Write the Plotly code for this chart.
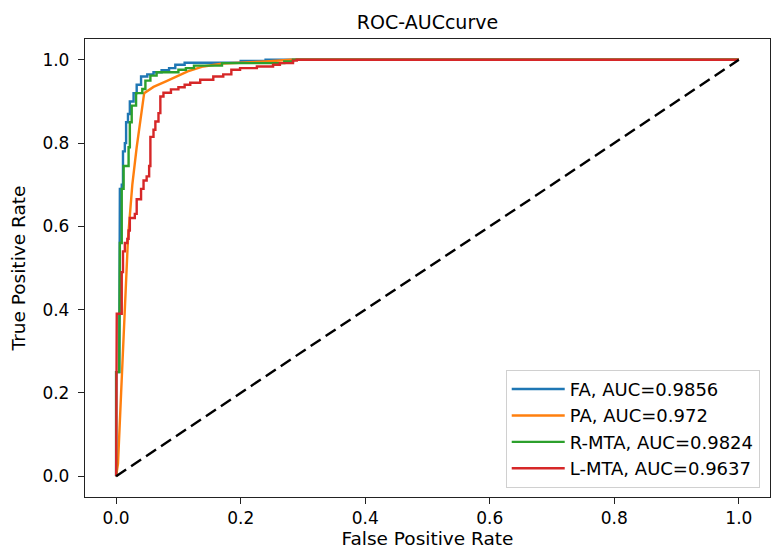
import plotly.graph_objects as go

# ROC points
fa_fpr = [0, 0, 0.005, 0.005, 0.006, 0.006, 0.009, 0.009, 0.011, 0.011, 0.014, 0.014, 0.016, 0.016,
          0.019, 0.019, 0.022, 0.022, 0.028, 0.028, 0.033, 0.033, 0.04, 0.04, 0.05, 0.05, 0.06, 0.06,
          0.073, 0.073, 0.085, 0.085, 0.095, 0.095, 0.11, 0.11, 0.2, 0.2, 0.24, 0.24, 1.0]
fa_tpr = [0, 0.25, 0.25, 0.56, 0.56, 0.69, 0.69, 0.70, 0.70, 0.78, 0.78, 0.80, 0.80, 0.85,
          0.85, 0.87, 0.87, 0.90, 0.90, 0.92, 0.92, 0.94, 0.94, 0.96, 0.96, 0.965, 0.965, 0.97,
          0.97, 0.975, 0.975, 0.98, 0.98, 0.988, 0.988, 0.993, 0.993, 0.997, 0.997, 1.0, 1.0]

pa_fpr = [0, 0.003, 0.008, 0.013, 0.019, 0.026, 0.033, 0.045, 0.06, 0.08, 0.1, 0.115, 0.14,
          0.172, 0.24, 0.28, 1.0]
pa_tpr = [0, 0.03, 0.2, 0.38, 0.57, 0.7, 0.79, 0.92, 0.935, 0.948, 0.962, 0.972, 0.984,
          0.991, 0.996, 1.0, 1.0]

rmta_fpr = [0, 0, 0.005, 0.005, 0.006, 0.006, 0.009, 0.009, 0.012, 0.012, 0.02, 0.02, 0.022, 0.022,
            0.025, 0.025, 0.032, 0.032, 0.042, 0.042, 0.047, 0.047, 0.055, 0.055, 0.065, 0.065,
            0.1, 0.1, 0.112, 0.112, 0.125, 0.125, 0.17, 0.17, 0.27, 0.27, 0.284, 0.284, 1.0]
rmta_tpr = [0, 0.25, 0.25, 0.47, 0.47, 0.56, 0.56, 0.69, 0.69, 0.745, 0.745, 0.79, 0.79, 0.85,
            0.85, 0.89, 0.89, 0.92, 0.92, 0.93, 0.93, 0.95, 0.95, 0.962, 0.962, 0.97,
            0.97, 0.976, 0.976, 0.98, 0.98, 0.986, 0.986, 0.992, 0.992, 0.996, 0.996, 1.0, 1.0]

lmta_fpr = [0, 0, 0.001, 0.001, 0.009, 0.009, 0.011, 0.011, 0.014, 0.014, 0.018, 0.018, 0.02, 0.02,
            0.022, 0.022, 0.03, 0.03, 0.033, 0.033, 0.04, 0.04, 0.044, 0.044, 0.049, 0.049,
            0.053, 0.053, 0.055, 0.055, 0.06, 0.06, 0.063, 0.063, 0.068, 0.068, 0.071, 0.071,
            0.076, 0.076, 0.088, 0.088, 0.1, 0.1, 0.11, 0.11, 0.119, 0.119, 0.135, 0.135,
            0.156, 0.156, 0.172, 0.172, 0.185, 0.185, 0.199, 0.199, 0.226, 0.226, 0.252, 0.252,
            0.263, 0.263, 0.284, 0.284, 0.29, 0.29, 1.0]
lmta_tpr = [0, 0.03, 0.03, 0.39, 0.39, 0.49, 0.49, 0.54, 0.54, 0.56, 0.56, 0.57, 0.57, 0.59,
            0.59, 0.62, 0.62, 0.63, 0.63, 0.665, 0.665, 0.69, 0.69, 0.71, 0.71, 0.72,
            0.72, 0.745, 0.745, 0.815, 0.815, 0.832, 0.832, 0.852, 0.852, 0.872, 0.872, 0.912,
            0.912, 0.921, 0.921, 0.929, 0.929, 0.934, 0.934, 0.94, 0.94, 0.945, 0.945, 0.952,
            0.952, 0.96, 0.96, 0.965, 0.965, 0.976, 0.976, 0.98, 0.98, 0.984, 0.984, 0.988,
            0.988, 0.992, 0.992, 0.998, 0.998, 1.0, 1.0]

names = ["FA, AUC=0.9856", "PA, AUC=0.972", "R-MTA, AUC=0.9824", "L-MTA, AUC=0.9637"]
colors = ["#1f77b4", "#ff7f0e", "#2ca02c", "#d62728"]
curves = [(fa_fpr, fa_tpr), (pa_fpr, pa_tpr), (rmta_fpr, rmta_tpr), (lmta_fpr, lmta_tpr)]

diag = [0, 1]
ticks = [0.0, 0.2, 0.4, 0.6, 0.8, 1.0]

fig = go.Figure()
for (fpr, tpr), name, color in zip(curves, names, colors):
    fig.add_trace(go.Scatter(x=fpr, y=tpr, mode="lines", name=name,
                             line=dict(color=color, width=2.4)))

# chance line
fig.add_trace(go.Scatter(x=diag, y=diag, mode="lines", showlegend=False,
                         line=dict(color="black", width=2.4, dash="12px,6px")))

axis_style = dict(showgrid=False, zeroline=False, showline=True, mirror=True,
                  linecolor="#222", linewidth=1.3, ticks="outside", ticklen=6,
                  tickcolor="#222", tickwidth=1.3, tickvals=ticks,
                  ticktext=[f"{v:.1f}" for v in ticks],
                  tickfont=dict(size=17, color="black"))

# page body has an 8px margin, so the figure is 16px smaller than the window
fig.update_layout(
    width=764, height=542,
    margin=dict(l=77, r=2, t=31, b=53),
    paper_bgcolor="white", plot_bgcolor="white",
    font=dict(family="DejaVu Sans", color="black"),
    title=dict(text="ROC-AUCcurve", x=(77 + 762) / 2 / 764, xanchor="center",
               y=1 - 14 / 542, yanchor="middle", yref="container",
               font=dict(size=19, color="black")),
    xaxis=dict(range=[-0.05, 1.05], ticklabelstandoff=-1,
               title=dict(text="False Positive Rate", font=dict(size=18.5), standoff=5),
               **axis_style),
    yaxis=dict(range=[-0.05, 1.05], ticklabelstandoff=5,
               title=dict(text="True Positive Rate", font=dict(size=18.5), standoff=14),
               **axis_style),
    legend=dict(x=0.985, y=0.02, xanchor="right", yanchor="bottom",
                bgcolor="rgba(255,255,255,0.8)", bordercolor="#d0d0d0", borderwidth=1,
                font=dict(size=18, color="black"), itemwidth=53),
)

fig.write_html("out.html")
